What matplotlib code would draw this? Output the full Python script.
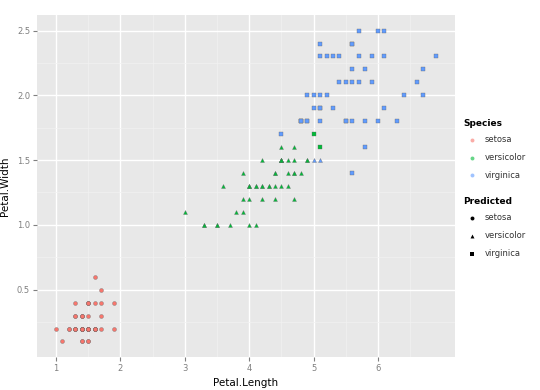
import numpy as np
import matplotlib.pyplot as plt

species_names = ['setosa', 'versicolor', 'virginica']
species_colors = ['#F8766D', '#00BA38', '#619CFF']
pred_markers = ['o', '^', 's']

petal_length = [
    1.4, 1.4, 1.3, 1.5, 1.4, 1.7, 1.4, 1.5, 1.4, 1.5, 1.5, 1.6, 1.4, 1.1, 1.2, 1.5, 1.3, 1.4, 1.7, 1.5,
    1.7, 1.5, 1.0, 1.7, 1.9, 1.6, 1.6, 1.5, 1.4, 1.6, 1.6, 1.5, 1.5, 1.4, 1.5, 1.2, 1.3, 1.4, 1.3, 1.5,
    1.3, 1.3, 1.3, 1.6, 1.9, 1.4, 1.6, 1.4, 1.5, 1.4,
    4.7, 4.5, 4.9, 4.0, 4.6, 4.5, 4.7, 3.3, 4.6, 3.9, 3.5, 4.2, 4.0, 4.7, 3.6, 4.4, 4.5, 4.1, 4.5, 3.9,
    4.8, 4.0, 4.9, 4.7, 4.3, 4.4, 4.8, 5.0, 4.5, 3.5, 3.8, 3.7, 3.9, 5.1, 4.5, 4.5, 4.7, 4.4, 4.1, 4.0,
    4.4, 4.6, 4.0, 3.3, 4.2, 4.2, 4.2, 4.3, 3.0, 4.1,
    6.0, 5.1, 5.9, 5.6, 5.8, 6.6, 4.5, 6.3, 5.8, 6.1, 5.1, 5.3, 5.5, 5.0, 5.1, 5.3, 5.5, 6.7, 6.9, 5.0,
    5.7, 4.9, 6.7, 4.9, 5.7, 6.0, 4.8, 4.9, 5.6, 5.8, 6.1, 6.4, 5.6, 5.1, 5.6, 6.1, 5.6, 5.5, 4.8, 5.4,
    5.6, 5.1, 5.1, 5.9, 5.7, 5.2, 5.0, 5.2, 5.4, 5.1,
]
petal_width = [
    0.2, 0.2, 0.2, 0.2, 0.2, 0.4, 0.3, 0.2, 0.2, 0.1, 0.2, 0.2, 0.1, 0.1, 0.2, 0.4, 0.4, 0.3, 0.3, 0.3,
    0.2, 0.4, 0.2, 0.5, 0.2, 0.2, 0.4, 0.2, 0.2, 0.2, 0.2, 0.4, 0.1, 0.2, 0.2, 0.2, 0.2, 0.1, 0.2, 0.2,
    0.3, 0.3, 0.2, 0.6, 0.4, 0.3, 0.2, 0.2, 0.2, 0.2,
    1.4, 1.5, 1.5, 1.3, 1.5, 1.3, 1.6, 1.0, 1.3, 1.4, 1.0, 1.5, 1.0, 1.4, 1.3, 1.4, 1.5, 1.0, 1.5, 1.1,
    1.8, 1.3, 1.5, 1.2, 1.3, 1.4, 1.4, 1.7, 1.5, 1.0, 1.1, 1.0, 1.2, 1.6, 1.5, 1.6, 1.5, 1.3, 1.3, 1.3,
    1.2, 1.4, 1.2, 1.0, 1.3, 1.2, 1.3, 1.3, 1.1, 1.3,
    2.5, 1.9, 2.1, 1.8, 2.2, 2.1, 1.7, 1.8, 1.8, 2.5, 2.0, 1.9, 2.1, 2.0, 2.4, 2.3, 1.8, 2.2, 2.3, 1.5,
    2.3, 2.0, 2.0, 1.8, 2.1, 1.8, 1.8, 1.8, 2.1, 1.6, 1.9, 2.0, 2.2, 1.5, 1.4, 2.3, 2.4, 1.8, 1.8, 2.1,
    2.4, 2.3, 1.9, 2.3, 2.5, 2.3, 1.9, 2.0, 2.3, 1.8,
]
# 0 = setosa, 1 = versicolor, 2 = virginica
species = [0] * 50 + [1] * 50 + [2] * 50
predicted = [
    0, 0, 0, 0, 0, 0, 0, 0, 0, 0, 0, 0, 0, 0, 0, 0, 0, 0, 0, 0, 0, 0, 0, 0, 0,
    0, 0, 0, 0, 0, 0, 0, 0, 0, 0, 0, 0, 0, 0, 0, 0, 0, 0, 0, 0, 0, 0, 0, 0, 0,
    1, 1, 1, 1, 1, 1, 1, 1, 1, 1, 1, 1, 1, 1, 1, 1, 1, 1, 1, 1, 2, 1, 1, 1, 1,
    1, 1, 2, 1, 1, 1, 1, 1, 2, 1, 1, 1, 1, 1, 1, 1, 1, 1, 1, 1, 1, 1, 1, 1, 1,
    2, 2, 2, 2, 2, 2, 2, 2, 2, 2, 2, 2, 2, 2, 2, 2, 2, 2, 2, 1, 2, 2, 2, 2, 2,
    2, 2, 2, 2, 2, 2, 2, 2, 1, 2, 2, 2, 2, 2, 2, 2, 2, 2, 2, 2, 2, 2, 2, 2, 2,
]

x = np.array(petal_length)
y = np.array(petal_width)
sp = np.array(species)
pr = np.array(predicted)

fig = plt.figure(figsize=(5.4, 3.9), dpi=100)
ax = fig.add_axes([37 / 540, 1 - 357 / 390, (455 - 37) / 540, (357 - 15) / 390])
ax.set_facecolor('#E8E8E8')

ax.set_xlim(0.705, 7.195)
ax.set_ylim(-0.02, 2.62)
ax.set_xticks([1, 2, 3, 4, 5, 6])
ax.set_yticks([0.5, 1.0, 1.5, 2.0, 2.5])
ax.set_xticks(np.arange(1.5, 7.0, 1.0), minor=True)
ax.set_yticks(np.arange(0.25, 2.6, 0.5), minor=True)
ax.grid(which='major', color='white', linewidth=1.0)
ax.grid(which='minor', color='#F2F2F2', linewidth=0.5)
ax.set_axisbelow(True)
for s in ax.spines.values():
    s.set_visible(False)
ax.tick_params(which='major', length=3, color='#7F7F7F', labelsize=6, labelcolor='#7F7F7F', pad=2)
ax.tick_params(which='minor', length=0)

for s in range(3):
    for p in range(3):
        m = (sp == s) & (pr == p)
        if m.any():
            ax.scatter(x[m], y[m], s=8, marker=pred_markers[p], c=species_colors[s],
                       edgecolors='#666666', linewidths=0.25, zorder=3)

ax.set_xlabel('Petal.Length', fontsize=7.5, labelpad=4)
ax.set_ylabel('Petal.Width', fontsize=7.5, labelpad=5)

# legend drawn in pixel coordinates
lg = fig.add_axes([0, 0, 1, 1], facecolor='none')
lg.set_xlim(0, 540)
lg.set_ylim(390, 0)
lg.axis('off')
lg.text(463, 124, 'Species', fontsize=6.5, fontweight='bold', va='center')
for i, name in enumerate(species_names):
    yy = [140, 157.5, 175][i]
    lg.scatter([472], [yy], s=8, marker='o', c=species_colors[i], alpha=0.6, linewidths=0)
    lg.text(485, yy, name, fontsize=6, va='center', color='#333333')
lg.text(463, 202, 'Predicted', fontsize=6.5, fontweight='bold', va='center')
for i, name in enumerate(species_names):
    yy = [218, 236, 254][i]
    lg.scatter([472], [yy], s=8, marker=pred_markers[i], c='black', linewidths=0)
    lg.text(485, yy, name, fontsize=6, va='center', color='#333333')

fig.savefig('out.png', dpi=100)
